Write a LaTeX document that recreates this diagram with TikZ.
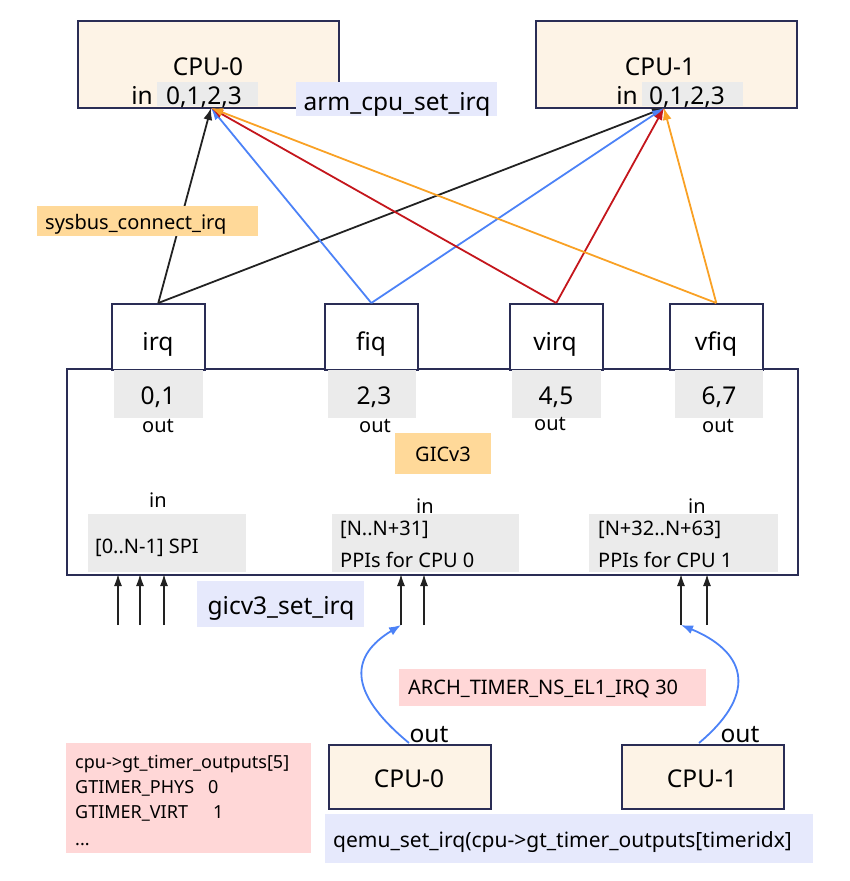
\documentclass[tikz,border=0pt]{standalone}
\usepackage{fontspec}
\setmainfont{Noto Sans}
\usetikzlibrary{arrows.meta}
\definecolor{cream}{HTML}{FDF3E6}
\definecolor{navy}{HTML}{2A2D55}
\definecolor{greyc}{HTML}{EBEBEB}
\definecolor{lav}{HTML}{E6E9FC}
\definecolor{orlab}{HTML}{FFD999}
\definecolor{pinkc}{HTML}{FFD7D7}
\definecolor{bluel}{HTML}{4C82F7}
\definecolor{redl}{HTML}{C4161C}
\definecolor{orl}{HTML}{F9A125}
\definecolor{blackl}{HTML}{222222}
\newcommand\fsz[1]{\fontsize{#1}{#1}\selectfont}
\tikzset{
  boxbase/.style={inner sep=0pt, anchor=north west},
  cpubox/.style={boxbase, draw=navy, line width=1.6pt, fill=cream},
  portbox/.style={boxbase, draw=navy, line width=1.6pt, fill=white, minimum width=93pt, minimum height=66pt},
  greybox/.style={boxbase, fill=greyc},
  lavbox/.style={boxbase, fill=lav},
  orbox/.style={boxbase, fill=orlab},
  pinkbox/.style={boxbase, fill=pinkc},
  txt/.style={inner sep=0pt, anchor=base},
  txtl/.style={inner sep=0pt, anchor=base west},
  big/.style={font=\fsz{24.5}},
  mid/.style={font=\fsz{20}},
  sml/.style={font=\fsz{18}},
  tip/.style={-{Latex[length=12pt,width=9pt]}, line width=1.8pt},
  utip/.style={-{Latex[length=12pt,width=8pt]}, line width=1.6pt, draw=blackl},
}
\begin{document}
\begin{tikzpicture}[x=1pt,y=-1pt]
\useasboundingbox (0,0) rectangle (849,881);

% ---- top CPUs
\node[cpubox, minimum width=261pt, minimum height=87pt] (cpuA) at (77,20) {};
\node[cpubox, minimum width=261pt, minimum height=87pt] (cpuB) at (535,20) {};
\node[txt, big] (cpuAt) at (208,75) {CPU-0};
\node[txt, big] (cpuBt) at (660,75) {CPU-1};
\node[greybox, minimum width=101pt, minimum height=24pt] (cpuAg) at (157,82) {};
\node[greybox, minimum width=101pt, minimum height=24pt] (cpuBg) at (642,82) {};
\node[txt, big] (cpuAin) at (142,104) {in};
\node[txt, big] (cpuAn) at (204,104) {0,1,2,3};
\node[txt, big] (cpuBin) at (627,104) {in};
\node[txt, big] (cpuBn) at (687,104) {0,1,2,3};
\coordinate (inA) at (211,108);
\coordinate (inB) at (664,108);

% ---- GIC box
\node[boxbase, draw=navy, line width=1.6pt, fill=white, minimum width=731pt, minimum height=206pt] (gic) at (66,368) {};
\node[portbox] (irq) at (111,303) {};
\node[portbox] (fiq) at (324,303) {};
\node[portbox] (virq) at (509,303) {};
\node[portbox] (vfiq) at (669,303) {};
\node[txt, big] at (158,350) {irq};
\node[txt, big] at (371,350) {fiq};
\node[txt, big] at (555,350) {virq};
\node[txt, big] at (716,350) {vfiq};

\node[greybox, minimum width=89pt, minimum height=48pt] (g01) at (114,370) {};
\node[greybox, minimum width=88pt, minimum height=48pt] (g23) at (328,370) {};
\node[greybox, minimum width=89pt, minimum height=48pt] (g45) at (512,370) {};
\node[greybox, minimum width=88pt, minimum height=48pt] (g67) at (675,370) {};
\node[txt, big] at (158,404) {0,1};
\node[txt, big] at (374,404) {2,3};
\node[txt, big] at (556,404) {4,5};
\node[txt, big] at (719,404) {6,7};
\node[txt, mid] at (158,432) {out};
\node[txt, mid] at (375,432) {out};
\node[txt, mid] at (550,430) {out};
\node[txt, mid] at (718,432) {out};

\node[orbox, minimum width=96pt, minimum height=41pt] (gicl) at (395,433) {};
\node[txt, mid] at (443,461) {GICv3};

\node[txt, mid] at (158,507) {in};
\node[txt, mid] at (425,513) {in};
\node[txt, mid] at (697,513) {in};
\node[greybox, minimum width=158pt, minimum height=58pt] (spi) at (88,514) {};
\node[greybox, minimum width=187pt, minimum height=58pt] (ppi0) at (332,514) {};
\node[greybox, minimum width=189pt, minimum height=58pt] (ppi1) at (589,514) {};
\node[txtl, mid] at (95,553) {[0..N-1] SPI};
\node[txtl, mid] at (340,535) {[N..N+31]};
\node[txtl, mid] at (340,567) {PPIs for CPU 0};
\node[txtl, mid] at (598,535) {[N+32..N+63]};
\node[txtl, mid] at (598,567) {PPIs for CPU 1};

% ---- top connectors
\draw[tip, blackl] (irq.north) -- (inA);
\draw[tip, blackl] (irq.north) -- (inB);
\draw[tip, bluel] (fiq.north) -- (inA);
\draw[tip, bluel] (fiq.north) -- (inB);
\draw[tip, redl] (virq.north) -- (inA);
\draw[tip, redl] (virq.north) -- (inB);
\draw[tip, orl] (vfiq.north) -- (inA);
\draw[tip, orl] (vfiq.north) -- (inB);

\node[lavbox, minimum width=201pt, minimum height=34pt] (armlab) at (296,82) {};
\node[txt, big] at (397,110) {arm\_cpu\_set\_irq};
\node[orbox, minimum width=221pt, minimum height=30pt] (syslab) at (37,206) {};
\node[txtl, mid] at (45,229) {sysbus\_connect\_irq};

% ---- input arrows
\foreach \xx/\nm in {118/a1,140/a2,164/a3,401/b1,424/b2,681/c1,707/c2}{
  \coordinate (\nm s) at (\xx,625);
  \coordinate (\nm e) at (\xx,574);
  \draw[utip] (\nm s) -- (\nm e);
}
\node[lavbox, minimum width=167pt, minimum height=46pt] (gicvlab) at (197,581) {};
\node[txt, big] at (281,614) {gicv3\_set\_irq};

% ---- bottom CPUs
\node[cpubox, minimum width=162pt, minimum height=64pt] (cpuC) at (328,744) {};
\node[cpubox, minimum width=162pt, minimum height=64pt] (cpuD) at (621,744) {};
\node[txt, big] at (409,787) {CPU-0};
\node[txt, big] at (702,787) {CPU-1};
\node[txt, big] (outC) at (429,742) {out};
\node[txt, big] (outD) at (740,742) {out};
\coordinate (cC) at (409,743);
\coordinate (cD) at (699,743);

\draw[tip, bluel] (cC) .. controls (345,690) and (352,655) .. (b1s);
\draw[tip, bluel] (cD) .. controls (762,690) and (742,650) .. (c1s);

\node[pinkbox, minimum width=307pt, minimum height=37pt] (archlab) at (399,669) {};
\node[txtl, mid] at (408,694) {ARCH\_TIMER\_NS\_EL1\_IRQ 30};

\node[pinkbox, minimum width=245pt, minimum height=110pt] (gtlab) at (66,743) {};
\node[txtl, sml] at (75,768) {cpu->gt\_timer\_outputs[5]};
\node[txtl, sml] at (75,793) {GTIMER\_PHYS\hspace{14pt}0};
\node[txtl, sml] at (75,818) {GTIMER\_VIRT\hspace{25pt}1};
\node[txtl, sml] at (75,845) {...};

\node[lavbox, minimum width=488pt, minimum height=49pt] (qlab) at (325,814) {};
\node[txtl, font=\fsz{21}] at (333,847) {qemu\_set\_irq(cpu->gt\_timer\_outputs[timeridx]};
\end{tikzpicture}
\end{document}
